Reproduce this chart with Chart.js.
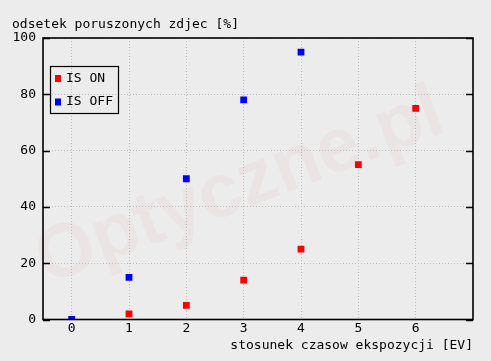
<!DOCTYPE html>
<html>
<head>
<meta charset="utf-8">
<script src="https://cdn.jsdelivr.net/npm/chart.js@4/dist/chart.umd.min.js"></script>
<style>
html,body{margin:0;padding:0;background:#ececec;}
#wrap{width:491px;height:361px;}
</style>
</head>
<body>
<div id="wrap"><canvas id="c" width="491" height="361"></canvas></div>
<script>
const xTicks = [0, 1, 2, 3, 4, 5, 6];
const yTicks = [0, 20, 40, 60, 80, 100];
const isOnX = [1, 2, 3, 4, 5, 6];
const isOnY = [2, 5, 14, 25, 55, 75];
const isOffX = [0, 1, 2, 3, 4];
const isOffY = [0, 15, 50, 78, 95];
const seriesLabels = ['IS ON', 'IS OFF'];
const yTitle = 'odsetek poruszonych zdjec [%]';
const xTitle = 'stosunek czasow ekspozycji [EV]';
const watermark = 'Optyczne.pl';

const FONT = '"DejaVu Sans Mono", "Liberation Mono", monospace';

const framePlugin = {
  id: 'frame',
  beforeDraw(chart) {
    const ctx = chart.ctx;
    ctx.save();
    ctx.fillStyle = '#ececec';
    ctx.fillRect(0, 0, chart.width, chart.height);
    ctx.translate(240, 188);
    ctx.rotate(-21 * Math.PI / 180);
    ctx.font = 'bold 76px "Liberation Sans", Arial, sans-serif';
    ctx.textAlign = 'center';
    ctx.textBaseline = 'middle';
    ctx.fillStyle = 'rgba(235,60,60,0.045)';
    ctx.fillText(watermark, 0, 0);
    ctx.restore();
  },
  afterDatasetsDraw(chart) {
    const ctx = chart.ctx;
    const a = chart.chartArea;
    const ys = chart.scales.y;
    ctx.save();
    ctx.strokeStyle = '#000';
    ctx.lineWidth = 1.6;
    ctx.strokeRect(a.left, a.top, a.right - a.left, a.bottom - a.top);
    ctx.lineWidth = 1.4;
    ctx.beginPath();
    yTicks.forEach(v => {
      const py = Math.round(ys.getPixelForValue(v)) + 0.5;
      ctx.moveTo(a.left, py); ctx.lineTo(a.left + 7, py);
      ctx.moveTo(a.right, py); ctx.lineTo(a.right - 7, py);
    });
    ctx.stroke();
    ctx.fillStyle = '#000';
    ctx.font = '13px ' + FONT;
    ctx.textBaseline = 'middle';
    ctx.textAlign = 'left';
    ctx.fillText(yTitle, 12, 25);
    const lx = 50.5, ly = 66.5, lw = 68, lh = 47;
    ctx.strokeStyle = '#000';
    ctx.lineWidth = 1.2;
    ctx.strokeRect(lx, ly, lw, lh);
    chart.data.datasets.forEach((ds, i) => {
      const cy = 78.5 + i * 23.5;
      ctx.fillStyle = ds.backgroundColor;
      ctx.fillRect(55, cy - 3.5, 6, 7);
      ctx.fillStyle = '#000';
      ctx.fillText(ds.label, 66, cy);
    });
    ctx.restore();
  }
};

const gridOpts = {color: '#bdbdbd', drawTicks: false, lineWidth: 1};
const borderOpts = {display: false, dash: [1, 2]};

new Chart(document.getElementById('c'), {
  type: 'scatter',
  data: {
    datasets: [
      {
        label: seriesLabels[0],
        data: isOnX.map((x, i) => ({x: x, y: isOnY[i]})),
        backgroundColor: '#ff0000',
        borderColor: '#ff0000',
        pointStyle: 'rect',
        pointRadius: 4.8,
        pointBorderWidth: 0
      },
      {
        label: seriesLabels[1],
        data: isOffX.map((x, i) => ({x: x, y: isOffY[i]})),
        backgroundColor: '#0000ff',
        borderColor: '#0000ff',
        pointStyle: 'rect',
        pointRadius: 4.8,
        pointBorderWidth: 0
      }
    ]
  },
  options: {
    responsive: false,
    animation: false,
    events: [],
    layout: {padding: {left: 0, top: 38, right: 18, bottom: 0}},
    plugins: {legend: {display: false}, tooltip: {enabled: false}, title: {display: false}},
    scales: {
      x: {
        type: 'linear',
        min: -0.5,
        max: 7,
        afterBuildTicks: s => { s.ticks = xTicks.map(v => ({value: v})); },
        afterFit: s => { s.height = 41.5; },
        border: borderOpts,
        grid: gridOpts,
        ticks: {color: '#000', font: {family: FONT, size: 13}, padding: 1, maxRotation: 0},
        title: {display: true, text: xTitle, align: 'end', color: '#000', font: {family: FONT, size: 13}, padding: {top: 0, bottom: 8}}
      },
      y: {
        type: 'linear',
        min: 0,
        max: 100,
        afterBuildTicks: s => { s.ticks = yTicks.map(v => ({value: v})); },
        afterFit: s => { s.width = 43; },
        border: borderOpts,
        grid: gridOpts,
        ticks: {color: '#000', font: {family: FONT, size: 13}, padding: 7}
      }
    }
  },
  plugins: [framePlugin]
});
</script>
</body>
</html>
